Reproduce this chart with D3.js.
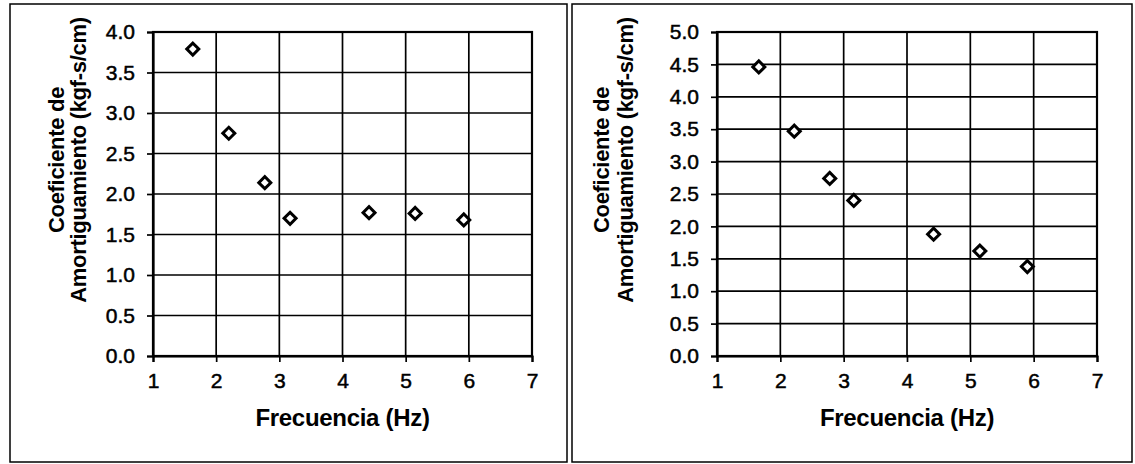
<!DOCTYPE html>
<html>
<head>
<meta charset="utf-8">
<title>Coeficiente de amortiguamiento vs frecuencia</title>
<style>
    body { margin: 0; background: white; }
    svg { display: block; }
    .tick text { font: 21px "Liberation Sans", Arial, sans-serif; fill: black; stroke: black; stroke-width: 0.5px; }
    .titulo { font: bold 22px "Liberation Sans", Arial, sans-serif; fill: black; letter-spacing: -0.3px; }
    .titulo.x { font-size: 24px; }
</style>
<script src="https://cdn.jsdelivr.net/npm/d3@7"></script>
</head>
<body>
<div id="grafico"></div>
<script>
    // valores
    var frecuencias = [1, 2, 3, 4, 5, 6, 7];
    var freqIzq = [1.63, 2.20, 2.77, 3.17, 4.42, 5.15, 5.92];
    var coefIzq = [3.79, 2.75, 2.14, 1.70, 1.77, 1.76, 1.68];
    var freqDer = [1.66, 2.22, 2.78, 3.16, 4.42, 5.15, 5.90];
    var coefDer = [4.46, 3.47, 2.74, 2.40, 1.88, 1.62, 1.38];
    var ticksIzq = [0, 0.5, 1, 1.5, 2, 2.5, 3, 3.5, 4];
    var ticksDer = [0, 0.5, 1, 1.5, 2, 2.5, 3, 3.5, 4, 4.5, 5];

    var svg = d3.select('#grafico')
            .append('svg')
            .attr('width', 1135)
            .attr('height', 464);

    function panel(cfg) {
        // marco exterior
        svg.append('rect')
                .attr('x', cfg.frame[0])
                .attr('y', 4)
                .attr('width', cfg.frame[1] - cfg.frame[0])
                .attr('height', 458)
                .attr('fill', 'white')
                .attr('stroke', 'black')
                .attr('stroke-width', 1.5);

        var x = d3.scaleLinear().domain([1, 7]).range([cfg.left, cfg.right]);
        var y = d3.scaleLinear().domain([0, cfg.ymax]).range([356, 32]);

        var g = svg.append('g');

        // rejilla
        g.selectAll('line.h')
                .data(cfg.yticks)
            .enter().append('line')
                .attr('x1', cfg.left).attr('x2', cfg.right)
                .attr('y1', function(d) { return y(d) })
                .attr('y2', function(d) { return y(d) })
                .attr('stroke', 'black')
                .attr('stroke-width', 1.7);

        g.selectAll('line.v')
                .data(frecuencias)
            .enter().append('line')
                .attr('x1', function(d) { return x(d) })
                .attr('x2', function(d) { return x(d) })
                .attr('y1', 32).attr('y2', 356)
                .attr('stroke', 'black')
                .attr('stroke-width', 1.7);

        g.append('rect')
                .attr('x', cfg.left).attr('y', 32)
                .attr('width', cfg.right - cfg.left)
                .attr('height', 324)
                .attr('fill', 'none')
                .attr('stroke', 'black')
                .attr('stroke-width', 2.2);

        // ejes
        var ejeX = g.append('g')
                .attr('transform', 'translate(0,356)')
                .call(d3.axisBottom(x).tickValues(frecuencias).tickSize(6).tickPadding(11)
                        .tickFormat(d3.format('d')));
        var ejeY = g.append('g')
                .attr('transform', 'translate(' + cfg.left + ',0)')
                .call(d3.axisLeft(y).tickValues(cfg.yticks).tickSize(6).tickPadding(12)
                        .tickFormat(d3.format('.1f')));
        [ejeX, ejeY].forEach(function(a) {
            a.attr('font-size', null).attr('font-family', null);
            a.select('.domain').attr('stroke', 'black').attr('stroke-width', 2.2);
            a.selectAll('.tick line').attr('stroke', 'black').attr('stroke-width', 1.7);
        });

        // titulos
        g.append('text')
                .attr('class', 'titulo x')
                .attr('x', (cfg.left + cfg.right) / 2)
                .attr('y', 426)
                .attr('text-anchor', 'middle')
                .text('Frecuencia (Hz)');

        var ty = g.append('text')
                .attr('class', 'titulo')
                .attr('text-anchor', 'middle')
                .attr('transform', 'translate(' + cfg.tx + ',160) rotate(-90)');
        ty.append('tspan').attr('x', 0).attr('y', 0).text('Coeficiente de');
        ty.append('tspan').attr('x', 0).attr('y', cfg.gap).text('Amortiguamiento (kgf-s/cm)');

        // puntos
        var datos = cfg.fx.map(function(f, i) { return [f, cfg.cy[i]] });
        g.selectAll('path.punto')
                .data(datos)
            .enter().append('path')
                .attr('d', d3.symbol().type(d3.symbolSquare).size(72))
                .attr('transform', function(d) {
                    return 'translate(' + x(d[0]) + ',' + y(d[1]) + ') rotate(45)';
                })
                .attr('fill', 'white')
                .attr('stroke', 'black')
                .attr('stroke-width', 3);
    }

    panel({ frame: [10, 567], left: 153, right: 532, ymax: 4, yticks: ticksIzq,
            fx: freqIzq, cy: coefIzq, tx: 64, gap: 22 });
    panel({ frame: [572, 1132], left: 717, right: 1097, ymax: 5, yticks: ticksDer,
            fx: freqDer, cy: coefDer, tx: 609, gap: 24 });
</script>
</body>
</html>
